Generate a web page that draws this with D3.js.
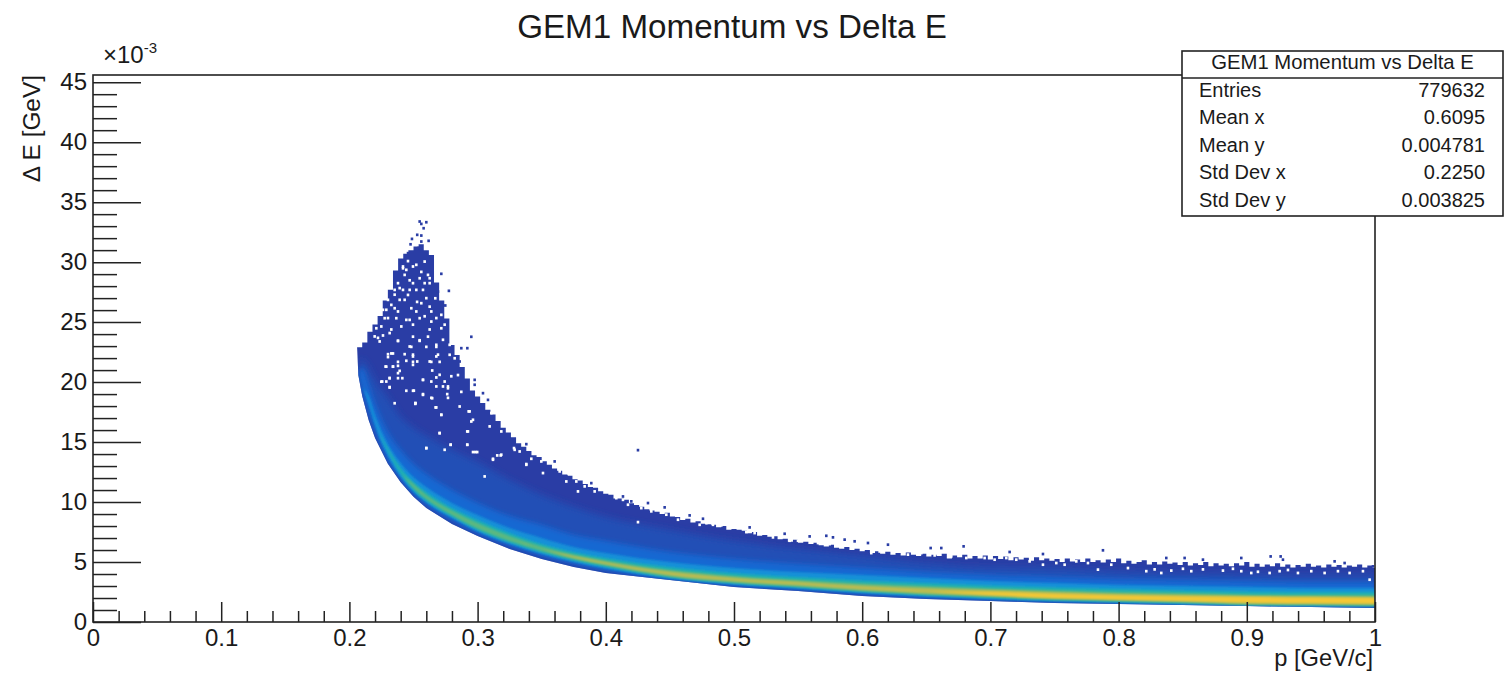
<!DOCTYPE html>
<html><head><meta charset="utf-8">
<script src="https://cdn.jsdelivr.net/npm/d3@7"></script>
<style>html,body{margin:0;padding:0;background:#fff}svg{display:block}text{font-family:"Liberation Sans",Arial,sans-serif;fill:#1a1a1a}</style>
</head><body>
<svg id="c" width="1511" height="678"></svg>
<script>
// Values. dE in units of 1e-3 GeV. Each list is one iso-colour contour of the 2-D histogram.
const titleText = "GEM1 Momentum vs Delta E";
const xMajor = [0,0.1,0.2,0.3,0.4,0.5,0.6,0.7,0.8,0.9,1];
const yMajor = [0,5,10,15,20,25,30,35,40,45];
const statNames = ["Entries","Mean x","Mean y","Std Dev x","Std Dev y"];
const statValues = ["779632","0.6095","0.004781","0.2250","0.003825"];
const pAnchor = [.207,.21,.215,.22,.23,.24,.25,.26,.28,.30,.325,.35,.375,.40,.45,.50,.55,.60,.65,.70,.75,.80,.85,.90,.95,1.0];
const lowEdge = [20.58,18.83,16.83,15.33,13.2,11.65,10.45,9.5,8.17,7.17,6.08,5.25,4.58,4.08,3.5,2.92,2.58,2.17,1.92,1.75,1.58,1.5,1.42,1.33,1.25,1.17];
const ridge   = [20.83,19.75,18.33,16.58,14.33,12.5,11.33,10.42,9.08,8.0,6.92,6.08,5.42,4.92,4.04,3.54,3.21,2.83,2.54,2.38,2.17,2.04,1.92,1.83,1.79,1.75];
const blue1Up = [21.83,21.83,21.17,20.17,18.67,17.08,16.17,15.5,14.33,13.33,11.83,10.58,9.58,8.75,7.67,6.75,6.08,5.5,4.92,4.58,4.5,4.25,4.08,4.0,3.92,3.92];
const blue1Lo = [20.67,19.0,17.0,15.5,13.35,11.8,10.6,9.62,8.33,7.29,6.21,5.38,4.71,4.21,3.54,3.0,2.67,2.25,2.0,1.83,1.67,1.56,1.46,1.35,1.29,1.25];
const blue2Up = [20.83,21.17,19.83,18.25,15.83,14.33,13.17,12.33,11.0,9.92,8.83,8.08,7.25,6.75,5.83,5.25,4.83,4.5,4.17,3.92,3.75,3.58,3.5,3.42,3.33,3.33];
const blue2Lo = [20.83,19.33,17.5,15.92,13.5,11.95,10.7,9.79,8.5,7.42,6.38,5.54,4.88,4.33,3.58,3.04,2.71,2.33,2.08,1.88,1.71,1.58,1.47,1.36,1.31,1.28];
const azureUp = [20.83,19.75,18.83,17.25,14.83,13.25,12.08,11.25,9.92,8.92,7.83,7.0,6.25,5.75,5.0,4.5,4.17,3.92,3.67,3.42,3.25,3.08,3.0,2.92,2.83,2.83];
const azureLo = [20.83,19.75,18.2,16.42,13.83,12.08,10.83,9.96,8.67,7.54,6.5,5.67,5.0,4.46,3.63,3.13,2.79,2.42,2.13,1.92,1.75,1.63,1.5,1.38,1.33,1.31];
const tealUp  = [20.83,19.75,18.33,16.58,14.5,12.83,11.67,10.83,9.5,8.5,7.42,6.5,5.83,5.33,4.58,4.08,3.75,3.46,3.25,3.04,2.88,2.75,2.63,2.54,2.5,2.5];
const tealLo  = [20.83,19.75,18.33,16.58,14.17,12.33,11.0,10.08,8.79,7.67,6.63,5.79,5.13,4.58,3.71,3.21,2.88,2.5,2.21,2.0,1.79,1.67,1.54,1.42,1.38,1.33];
const greenUp = [20.83,19.75,18.33,16.58,14.33,12.5,11.5,10.58,9.29,8.25,7.17,6.29,5.63,5.13,4.33,3.83,3.5,3.21,3.0,2.79,2.63,2.5,2.42,2.29,2.25,2.25];
const greenLo = [20.83,19.75,18.33,16.58,14.33,12.5,11.17,10.25,8.92,7.79,6.75,5.92,5.25,4.71,3.79,3.29,2.96,2.58,2.29,2.08,1.88,1.75,1.63,1.46,1.42,1.38];
const oliveUp = [20.83,19.75,18.33,16.58,14.33,12.5,11.33,10.42,9.08,8.0,6.92,6.08,5.5,5.0,4.21,3.71,3.38,3.04,2.83,2.67,2.5,2.33,2.25,2.17,2.13,2.08];
const oliveLo = [20.83,19.75,18.33,16.58,14.33,12.5,11.33,10.42,9.08,8.0,6.92,6.08,5.33,4.79,3.88,3.38,3.04,2.67,2.38,2.17,1.96,1.83,1.71,1.54,1.5,1.46];
const yellowUp= [20.83,19.75,18.33,16.58,14.33,12.5,11.33,10.42,9.08,8.0,6.92,6.08,5.42,4.92,4.04,3.54,3.21,2.83,2.54,2.5,2.33,2.21,2.13,2.08,2.04,2.0];
const yellowLo= [20.83,19.75,18.33,16.58,14.33,12.5,11.33,10.42,9.08,8.0,6.92,6.08,5.42,4.92,4.04,3.54,3.21,2.83,2.54,2.25,2.0,1.88,1.75,1.63,1.58,1.54];
// upper edge of the solid region, one value every 0.004 in p, from p = 0.208
const topStart = 0.208, topStep = 0.004;
const topEdge = [22.9,23.3,24.2,24.8,25.5,26.8,27.7,29.3,30.3,30.7,31.0,31.3,31.5,31.0,30.6,28.3,26.8,25.3,23.1,22.25,21.25,20.3,19.3,18.8,18.25,17.7,17.3,16.75,16.2,15.8,15.4,14.9,14.6,14.25,13.9,13.75,13.4,13.1,12.8,12.6,12.3,12.2,11.9,11.8,11.5,11.25,11.2,10.9,10.7,10.6,10.3,10.3,10.2,9.9,9.75,9.6,
9.4,9.3,9.2,9.0,9.1,8.8,8.75,8.5,8.6,8.3,8.4,8.2,8.15,8.1,7.9,8.0,7.7,7.75,7.7,7.6,7.4,7.5,7.2,7.25,7.1,7.15,6.9,6.95,6.7,6.85,6.6,6.7,6.5,6.6,6.4,6.3,6.45,6.2,6.1,6.25,6.0,6.1,5.9,6.0,5.75,5.9,5.7,5.85,5.6,5.75,5.55,5.8,5.6,5.5,5.7,5.45,5.6,5.5,5.7,5.3,5.55,5.4,5.6,5.3,5.5,5.3,5.55,5.2,5.5,5.25,5.45,5.15,5.4,5.2,5.35,5.1,5.4,5.15,5.3,5.1,5.25,5.0,5.3,5.05,5.2,5.0,5.3,5.0,5.15,4.95,5.2,5.0,5.3,4.9,5.1,4.85,5.0,5.15,4.8,5.0,4.8,5.05,4.85,4.95,4.75,5.0,4.7,4.9,4.75,5.0,4.65,4.9,4.7,4.85,4.65,4.9,4.7,5.0,4.6,4.85,4.6,4.8,4.65,4.9,4.6,4.8,4.55,4.75,4.6,4.85,4.6,4.7,4.55,4.8,4.6,4.75,4.55,4.7,4.6,4.8,4.55,4.7,4.5];
// empty bins inside the region [p, dE]
const holeP = [.2447,.2486,.2421,.2460,.2551,.2603,.2382,.2460,.2564,.2343,.2421,.2518,.2317,.2616,.2369,.2512,.2291,.2434,.2577,.2668,.2239,.2317,.2395,.2486,.2616,.2707,.2213,.2369,.2538,.2590,.2668,.2317,.2473,.2486,.2681,.2291,.2486,.2369,.2278,.2330,.2629,.2694,.2382,.2304,.2668,.2785,.2239,.2564,.2720,.2304,.2493,.2564,.2759,.2629,.2759,.2343,.2504,.2863,.2811,.2863,.2837,
.2928,.2941,.3097,.3084,.2915,.3175,.2910,.3279,.3279,.3318,.3175,.3110,.2972,.3370,.3487,.3409,.3500,.3630,.3682,.3760,.3773,.3825,.3903,.4072,.4124,.4163,.4267,.3045,.4241,
.8206,.8271,.8323,.8401,.8492,.8557,.8648,.8804,.8882,.8947,.9025,.9077,.9168,.9246,.9311,.9389,.9493,.9597,.9701,.9792,.9896,.9948,
.2504,.2668,.2707,.2850,.2920,.2954,.2694,.2909,.2780,.2909,.2590,.2954,.2987,.3110,.3143,.3170,.3274,.3370,
.2187,.2252,.2226,.2304,.2369,.2486,.2460,.2538,.2603,.2668,.2720,.2785,.2291,.2330,.2421,.2486,.2668,.2772,.2519,.2486,.2616,.2434,.2272,.2330,.2369,.2636,.2694,.2369,.2304,.2369,.2403,.2246,.2278,.2564,.2629,.2733,.2304,.2668,.2759,.2434,.2486,.2564,.2753,.2636,.2506,.2662,.2707,.2694,.2780,.2590,.2733,
.2408,.2434,.2512,.2577,.2538,.2577,.2486,.2369,.2408,.2512,.2616,.2343,.2382,.2447,.2590,.2551,.2291,.2252,.2473,.2629,.2265,.2356,.2460,.2538,.2629,
.4345,.4423,.4462,.4553,.4722,.4774,.4826,.4891,.5086,.5151,.5294,.5359,.5424,.5489,.5645,.5736,.5905,.5957,.6061,.6126,.6230,
.6347,.6451,.6555,.6685,.6802,.6945,.7023,.7114,.7192,.7296,.7400,.7504,.7569,.7660,.7751,.7829,.7933,.8063,
.2200,.2278,.2343,.2408,.2616,.2660,.2707,.2733,.2772];
const holeE = [30.2,29.75,29.05,28.6,29.3,29.05,27.95,27.8,27.8,27.4,26.97,26.8,26.55,26.4,26.0,26.0,25.45,25.3,25.6,25.45,24.75,24.5,24.75,24.9,24.5,24.6,23.8,23.55,23.6,23.05,23.05,22.5,23.05,22.4,22.4,22.2,21.8,21.8,21.4,21.4,21.8,21.8,21.05,20.45,20.5,20.6,20.15,20.3,19.75,19.7,19.4,19.05,19.6,18.8,18.8,18.35,18.3,19.3,22.1,21.7,20.7,
17.67,16.83,17.53,16.42,16.0,16.0,14.89,15.72,14.47,14.33,14.06,13.64,14.28,13.22,13.5,13.72,12.53,12.67,11.83,11.83,11.0,11.42,11.0,10.44,10.3,9.89,9.61,12.25,8.44,
4.35,4.5,4.2,4.4,4.55,4.35,4.5,4.4,4.55,4.35,4.2,4.3,4.2,4.35,4.45,4.2,4.35,4.2,4.35,4.2,4.35,3.64,
18.36,18.0,17.39,18.08,17.67,16.97,15.86,16.0,14.89,14.89,14.61,14.28,14.28,13.72,14.0,14.0,14.61,13.28,
23.92,24.0,23.5,24.2,23.55,23.9,23.08,23.55,23.9,23.22,23.64,24.05,22.44,22.5,22.44,22.25,22.25,22.39,21.83,21.55,21.83,21.89,21.41,21.41,21.47,21.08,20.72,20.86,20.44,20.44,20.44,20.16,20.16,20.3,20.16,20.16,19.66,19.75,19.75,19.39,19.39,19.11,19.11,18.77,18.36,18.0,17.38,15.86,14.89,14.61,14.47,
29.75,29.47,29.89,30.16,28.77,28.36,28.36,28.36,27.8,27.8,28.36,26.27,26.97,27.38,27.11,26.69,26.97,26.14,26.27,26.0,25.44,25.44,25.3,25.44,25.16,
9.34,9.34,9.06,8.64,8.22,8.36,8.22,8.17,7.61,7.53,7.17,7.25,6.89,6.89,6.7,6.61,6.28,6.42,5.86,6.0,6.0,
5.73,5.86,5.67,5.59,5.45,5.45,5.31,5.45,5.31,5.17,4.89,5.03,4.89,5.17,5.03,4.48,4.89,4.61,
24.6,26.14,27.8,29.6,28.77,27.1,25.72,24.9,23.22];
// isolated filled bins outside the region [p, dE]
const loneP = [.4241,.3370,.3591,.3682,.3877,.4189,.4124,.2538,.2551,.2590,.2569,.2519,.2551,.2478,.2551,.2608,.2467,.2530,.2447,.2707,.2766,.2681,.2738,.2941,.2910,.2863,.2967,.3071,.3032,.2967,.2850,
.4644,.4748,.5112,.5385,.5580,.5710,.5762,.5853,.5931,.6035,.6191,.4319,.4449,.6781,.7868,.6607,.6524,.7400,.7140,.9176,.9254,.9272,.8947,.8505,.8362,.8648,.9675,.9753,.9974];
const loneE = [14.44,14.94,13.5,12.25,11.69,10.17,10.58,33.5,33.3,33.44,32.94,32.39,32.33,32.05,31.83,31.89,31.6,31.3,30.86,29.14,27.72,27.66,26.5,23.89,22.94,22.94,20.3,18.63,19.19,19.89,21.83,
9.0,8.72,8.0,7.47,7.25,7.3,7.17,6.98,6.84,6.7,6.56,10.03,9.67,6.42,6.09,6.28,6.28,5.78,5.95,5.58,5.58,5.31,5.45,5.45,5.45,5.31,5.17,5.03,4.75];
const binP = 0.002, binE = 0.228;

const bands = [
 {lo:blue1Lo, up:blue1Up, col:"#2350b6", blur:3.5},
 {lo:blue2Lo, up:blue2Up, col:"#1668d2", blur:2.4},
 {lo:azureLo, up:azureUp, col:"#1490d8", blur:1.2},
 {lo:tealLo,  up:tealUp,  col:"#1eaeb4", blur:0.9},
 {lo:greenLo, up:greenUp, col:"#5cb880", blur:0.8},
 {lo:oliveLo, up:oliveUp, col:"#b8bb52", blur:0.8},
 {lo:yellowLo,up:yellowUp,col:"#f4c834", blur:0.8}
];
const navy = "#2a3ea5";

const svg = d3.select("#c");
const frame = {l:93, r:1375, t:75, b:622};
const x = d3.scaleLinear().domain([0,1]).range([frame.l, frame.r]);
const y = d3.scaleLinear().domain([0,45.6]).range([frame.b, frame.t]);

const defs = svg.append("defs");
defs.append("clipPath").attr("id","plot").append("rect").attr("x",frame.l).attr("y",frame.t).attr("width",frame.r-frame.l).attr("height",frame.b-frame.t);
const blurs = [...new Set(bands.map(b=>b.blur)), 0.45];
blurs.forEach(s=>{
  defs.append("filter").attr("id","b"+String(s).replace(".","_")).attr("x","-5%").attr("y","-30%").attr("width","110%").attr("height","160%")
    .append("feGaussianBlur").attr("stdDeviation",s);
});
const url = s => `url(#b${String(s).replace(".","_")})`;

const plot = svg.append("g").attr("clip-path","url(#plot)");
// whole populated region: stepped upper edge, then back along the lower edge
const topPts = [];
topEdge.forEach((e,i)=>{ const p = topStart+topStep*i; topPts.push([p-topStep/2,e],[p+topStep/2,e]); });
const backPts = pAnchor.map((p,i)=>[p,lowEdge[i]]).reverse();
const line = d3.line().x(d=>x(d[0])).y(d=>y(d[1]));
const regionD = line(topPts.concat(backPts))+"Z";
defs.append("clipPath").attr("id","region").append("path").attr("d",regionD);
plot.append("path").attr("d",regionD).attr("fill",navy).attr("filter",url(0.45));

const area = d3.area().x(d=>x(d.p)).y0(d=>y(d.lo)).y1(d=>y(d.up)).curve(d3.curveMonotoneX);
const rows = b => pAnchor.map((p,i)=>({p,lo:b.lo[i],up:b.up[i]}));
const inner = plot.append("g").attr("clip-path","url(#region)");
inner.selectAll("path").data(bands).join("path").attr("d",b=>area(rows(b))).attr("fill",b=>b.col).attr("filter",b=>url(b.blur));

const w = x(binP)-x(0), h = y(0)-y(binE);
plot.append("g").attr("filter",url(0.45)).selectAll("rect").data(holeP.map((p,i)=>[p,holeE[i]])).join("rect")
  .attr("x",d=>x(d[0])).attr("y",d=>y(d[1])).attr("width",w).attr("height",h).attr("fill","#fff");
plot.append("g").attr("filter",url(0.45)).selectAll("rect").data(loneP.map((p,i)=>[p,loneE[i]])).join("rect")
  .attr("x",d=>x(d[0])).attr("y",d=>y(d[1])).attr("width",w).attr("height",h).attr("fill",navy);

// ticks: drawn through d3 axes, pointing into the frame as in the original
const ink = "#222";
function style(g, sw){ g.select(".domain").remove(); g.selectAll("line").attr("stroke",ink).attr("stroke-width",sw); }
const xMinorVals = d3.range(0,101,2).map(d=>d/100).filter(v=>!xMajor.some(m=>Math.abs(m-v)<1e-6));
const yMinorVals = d3.range(0,46).filter(v=>v%5!==0);
svg.append("g").attr("transform",`translate(0,${frame.b})`).call(d3.axisBottom(x).tickValues(xMinorVals).tickSize(-11).tickFormat("")).call(style,1.5);
svg.append("g").attr("transform",`translate(${frame.l},0)`).call(d3.axisLeft(y).tickValues(yMinorVals).tickSize(-24).tickFormat("")).call(style,1.5);
const xa = svg.append("g").attr("transform",`translate(0,${frame.b})`).call(d3.axisBottom(x).tickValues(xMajor).tickSizeInner(-20).tickSizeOuter(0).tickPadding(7).tickFormat(d3.format("~g"))).call(style,1.5);
xa.selectAll("text").attr("font-size",24).attr("fill","#1a1a1a");
const ya = svg.append("g").attr("transform",`translate(${frame.l},0)`).call(d3.axisLeft(y).tickValues(yMajor).tickSizeInner(-48).tickSizeOuter(0).tickPadding(6).tickFormat(d3.format("d"))).call(style,1.5);
ya.selectAll("text").attr("font-size",24).attr("fill","#1a1a1a");

svg.append("rect").attr("x",frame.l).attr("y",frame.t).attr("width",frame.r-frame.l).attr("height",frame.b-frame.t).attr("fill","none").attr("stroke",ink).attr("stroke-width",1.6);

// titles
svg.append("text").attr("x",732).attr("y",38).attr("text-anchor","middle").attr("font-size",33.2).text(titleText);
const mult = svg.append("text").attr("x",103).attr("y",63).attr("font-size",24);
mult.append("tspan").text("×10");
mult.append("tspan").attr("font-size",15).attr("dy",-10).text("-3");
svg.append("text").attr("transform","translate(40,75) rotate(-90)").attr("text-anchor","end").attr("font-size",24.4).text("Δ E [GeV]");
svg.append("text").attr("x",1373).attr("y",666).attr("text-anchor","end").attr("font-size",23.7).text("p [GeV/c]");

// stats box
const box = svg.append("g");
box.append("rect").attr("x",1182).attr("y",51).attr("width",321).attr("height",165).attr("fill","#fff").attr("stroke",ink).attr("stroke-width",1.6);
box.append("line").attr("x1",1182).attr("x2",1503).attr("y1",78).attr("y2",78).attr("stroke",ink).attr("stroke-width",1.6);
box.append("text").attr("x",1342.5).attr("y",69).attr("text-anchor","middle").attr("font-size",20.3).text(titleText);
const rowY = d3.scalePoint().domain(statNames).range([96.5,207]);
box.selectAll("text.n").data(statNames).join("text").attr("class","n").attr("x",1199).attr("y",d=>rowY(d)).attr("font-size",20).text(d=>d);
box.selectAll("text.v").data(statNames).join("text").attr("class","v").attr("x",1485).attr("y",d=>rowY(d)).attr("text-anchor","end").attr("font-size",20).text((d,i)=>statValues[i]);
</script>
</body></html>
